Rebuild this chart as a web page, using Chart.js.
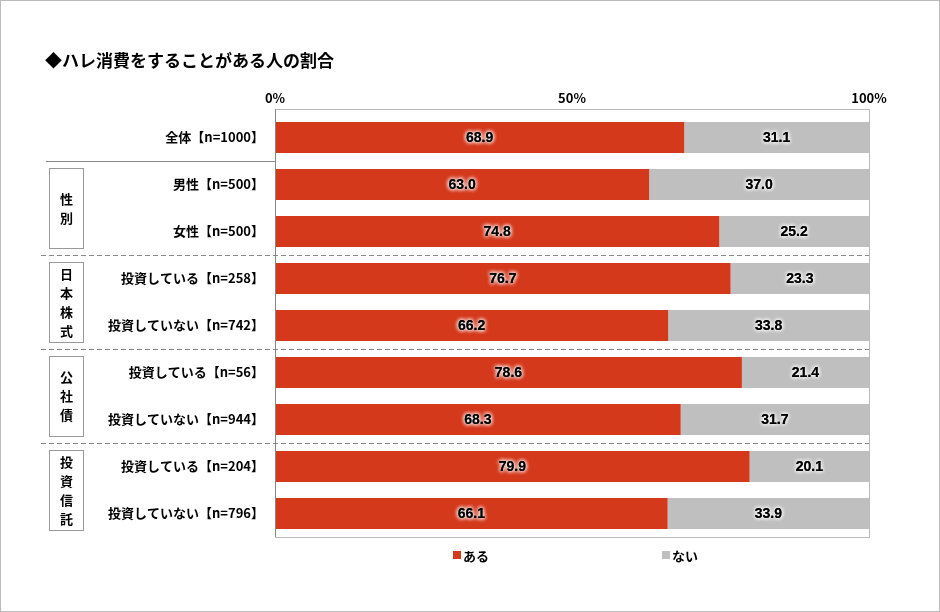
<!DOCTYPE html>
<html>
<head>
<style>
  body { margin: 0; background: #fff; }
  .frame { position: absolute; left: 0; top: 0; width: 938px; height: 610px; border: 1px solid #bbb; }
</style>
</head>
<body>
<div class="frame"><canvas id="c" width="938" height="610"></canvas></div>
<script src="https://cdn.jsdelivr.net/npm/chart.js"></script>
<script>
const categories = ['全体【n=1000】', '男性【n=500】', '女性【n=500】', '投資している【n=258】', '投資していない【n=742】',
  '投資している【n=56】', '投資していない【n=944】', '投資している【n=204】', '投資していない【n=796】'];
const aru = [68.9, 63.0, 74.8, 76.7, 66.2, 78.6, 68.3, 79.9, 66.1];
const nai = [31.1, 37.0, 25.2, 23.3, 33.8, 21.4, 31.7, 20.1, 33.9];
const xTicks = [0, 50, 100];
const groups = [{ name: '性別', from: 1, to: 2 }, { name: '日本株式', from: 3, to: 4 },
  { name: '公社債', from: 5, to: 6 }, { name: '投資信託', from: 7, to: 8 }];
const FONT = '"Noto Sans CJK JP", sans-serif';

const deco = {
  id: 'deco',
  afterDatasetsDraw(chart) {
    const ctx = chart.ctx, x = chart.scales.x, y = chart.scales.y, a = chart.chartArea;
    const top = 108;
    ctx.save();
    // title
    ctx.fillStyle = '#000';
    ctx.font = 'bold 17px ' + FONT;
    ctx.textBaseline = 'middle';
    ctx.fillText('◆ハレ消費をすることがある人の割合', 44, 60);
    // x tick labels
    ctx.font = 'bold 13px ' + FONT;
    ctx.textAlign = 'center';
    xTicks.forEach(v => ctx.fillText(v + '%', x.getPixelForValue(v), 97));
    // frame of plot
    ctx.strokeStyle = '#bbb'; ctx.lineWidth = 1;
    ctx.strokeRect(a.left + 0.5, top + 0.5, a.width, a.bottom - top);
    ctx.strokeStyle = '#888';
    ctx.beginPath(); ctx.moveTo(a.left + 0.5, top); ctx.lineTo(a.left + 0.5, a.bottom); ctx.stroke();
    // category labels
    ctx.textAlign = 'right';
    categories.forEach((c, i) => ctx.fillText(c, 263, y.getPixelForValue(i)));
    // separators
    const step = y.getPixelForValue(1) - y.getPixelForValue(0);
    const sep = i => Math.round(y.getPixelForValue(i) - step / 2) + 0.5;
    ctx.strokeStyle = '#888';
    ctx.beginPath(); ctx.moveTo(45, sep(1)); ctx.lineTo(a.left, sep(1)); ctx.stroke();
    ctx.setLineDash([5, 3]);
    [3, 5, 7].forEach(i => { ctx.beginPath(); ctx.moveTo(40, sep(i)); ctx.lineTo(a.right, sep(i)); ctx.stroke(); });
    ctx.setLineDash([]);
    // group boxes
    groups.forEach(g => {
      const t = sep(g.from) + 7, b = sep(g.to + 1) - 7;
      ctx.strokeStyle = '#999';
      ctx.strokeRect(48.5, t, 34, b - t);
      ctx.textAlign = 'center';
      ctx.fillStyle = '#000';
      const n = g.name.length, lh = 19, mid = (t + b) / 2;
      [...g.name].forEach((ch, k) => ctx.fillText(ch, 65.5, mid + (k - (n - 1) / 2) * lh));
    });
    // data labels with white glow
    ctx.font = 'bold 14px "Liberation Sans", Arial, sans-serif';
    ctx.textAlign = 'center';
    chart.data.datasets.forEach((ds, di) => {
      chart.getDatasetMeta(di).data.forEach((bar, i) => {
        const cx = (bar.x + bar.base) / 2;
        ctx.shadowColor = '#fff'; ctx.shadowBlur = 4;
        ctx.fillStyle = '#000';
        for (let k = 0; k < 3; k++) ctx.fillText(ds.data[i].toFixed(1), cx, bar.y + 1);
        ctx.shadowBlur = 0;
      });
    });
    // legend
    ctx.font = 'bold 13px ' + FONT;
    ctx.textAlign = 'left';
    [['ある', '#d5391c', 452], ['ない', '#bfbfbf', 661]].forEach(([t, col, lx]) => {
      ctx.fillStyle = col; ctx.fillRect(lx, 550, 8, 8);
      ctx.fillStyle = '#000'; ctx.fillText(t, lx + 10, 555);
    });
    ctx.restore();
  }
};

new Chart(document.getElementById('c'), {
  type: 'bar',
  data: {
    labels: categories,
    datasets: [
      { label: 'ある', data: aru, backgroundColor: '#d5391c', categoryPercentage: 0.66, barPercentage: 1 },
      { label: 'ない', data: nai, backgroundColor: '#bfbfbf', categoryPercentage: 0.66, barPercentage: 1 }
    ]
  },
  options: {
    indexAxis: 'y',
    responsive: false,
    animation: false,
    layout: { padding: { left: 274, top: 113, right: 70, bottom: 74 } },
    plugins: { legend: { display: false }, tooltip: { enabled: false } },
    scales: {
      x: { stacked: true, min: 0, max: 100, display: false },
      y: { stacked: true, display: false }
    }
  },
  plugins: [deco]
});
</script>
</body>
</html>
